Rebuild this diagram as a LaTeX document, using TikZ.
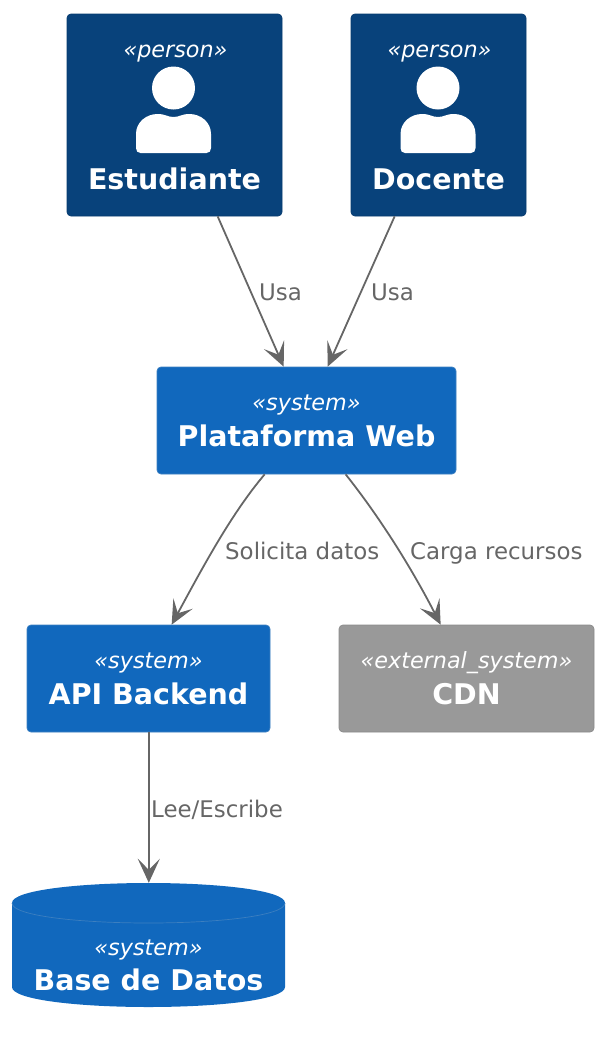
\documentclass[tikz,border=0pt]{standalone}
\usepackage{fontspec}
\setmainfont{DejaVu Sans}
\usepackage{tikz}
\usetikzlibrary{calc,arrows.meta}
\definecolor{personblue}{HTML}{08427B}
\definecolor{personedge}{HTML}{073B6F}
\definecolor{systemblue}{HTML}{1168BD}
\definecolor{systemedge}{HTML}{3C7FC0}
\definecolor{extgray}{HTML}{999999}
\definecolor{extedge}{HTML}{8A8A8A}
\definecolor{linkgray}{HTML}{666666}
\newcommand{\stereo}[1]{{\fontsize{22.3}{36}\selectfont\itshape «#1»}}
\newcommand{\boxname}[1]{{\fontsize{28.5}{36}\selectfont\bfseries #1}}
\tikzset{
  box/.style={draw,rounded corners=4pt,line width=0.7pt,text=white,align=center,minimum width=#1,font=\fontsize{28.5}{36}\selectfont},
  person/.style={box=#1,draw=personedge,fill=personblue,minimum height=202pt},
  system/.style={box=#1,draw=systemedge,fill=systemblue,minimum height=107pt},
  external/.style={box=#1,draw=extedge,fill=extgray,minimum height=107pt},
  boxtext/.style={text=white,inner sep=0pt,anchor=base},
  link/.style={linkgray,line width=1.8pt,-{Stealth[length=24pt,width=22pt,inset=11pt]}},
  linktext/.style={text=linkgray,anchor=base west,inner sep=0pt,font=\fontsize{22.9}{26}\selectfont},
}
\newcommand{\usericon}[1]{%
  \fill[white] (#1,88) circle (21.5);
  \fill[white] (#1-33,153) .. controls (#1-36,153) and (#1-37.5,151) .. (#1-37.5,148) -- (#1-37.5,134)
    .. controls (#1-37.5,122) and (#1-27,114) .. (#1-16,114)
    .. controls (#1-8,114) and (#1-6,117) .. (#1,117)
    .. controls (#1+6,117) and (#1+8,114) .. (#1+16,114)
    .. controls (#1+27,114) and (#1+37.5,122) .. (#1+37.5,134) -- (#1+37.5,148)
    .. controls (#1+37.5,151) and (#1+36,153) .. (#1+33,153) -- cycle;
}
\begin{document}
\begin{tikzpicture}[x=1pt,y=-1pt]
  \useasboundingbox (0,0) rectangle (603,1039);
  % people
  \node[person=215pt] (est) at (174.5,115) {};
  \node[person=175pt] (doc) at (438.5,115) {};
  \node[boxtext] (eststereo) at (175.5,57) {\stereo{person}};
  \node[boxtext] (docstereo) at (439.5,57) {\stereo{person}};
  \usericon{173.5}
  \usericon{438}
  \node[boxtext] (estname) at (174.5,189) {\boxname{Estudiante}};
  \node[boxtext] (docname) at (438.5,189) {\boxname{Docente}};
  % systems
  \node[system=299pt] (web) at (306.5,420.5) {\stereo{system}\\\boxname{Plataforma Web}};
  \node[system=243pt] (api) at (148.5,678.5) {\stereo{system}\\\boxname{API Backend}};
  \node[external=255pt] (cdn) at (466.5,678.5) {\stereo{external\_system}\\\boxname{CDN}};
  % database drum
  \fill[systemblue] (12,903) .. controls (12,890) and (80,883) .. (148.5,883)
    .. controls (217,883) and (285,890) .. (285,903) -- (285,987)
    .. controls (285,1000) and (217,1007) .. (148.5,1007)
    .. controls (80,1007) and (12,1000) .. (12,987) -- cycle;
  \draw[systemedge,line width=0.7pt] (12,903) .. controls (12,916) and (80,923) .. (148.5,923)
    .. controls (217,923) and (285,916) .. (285,903);
  \node[inner sep=0pt,minimum width=273pt,minimum height=124pt] (db) at (148.5,945) {};
  \node[boxtext] (dbstereo) at (148.5,955) {\stereo{system}};
  \node[boxtext] (dbname) at (148.5,990) {\boxname{Base de Datos}};
  % links
  \draw[link] ($(est.south west)+(151,0)$) -- ($(web.north west)+(127,0)$);
  \draw[link] ($(doc.south west)+(44,0)$) -- ($(web.north west)+(171,0)$);
  \draw[link] ($(web.south west)+(108,0)$) .. controls (232,513) and (205,563) .. ($(api.north west)+(145,0)$);
  \draw[link] ($(web.south west)+(189,0)$) .. controls (378,515) and (410,565) .. ($(cdn.north west)+(102,0)$);
  \draw[link] ($(api.south)+(0.3,0)$) -- ($(db.north)+(0.3,0)$);
  \node[linktext] (usa1) at (259,300) {Usa};
  \node[linktext] (usa2) at (371,300) {Usa};
  \node[linktext] (solicita) at (225,559) {Solicita datos};
  \node[linktext] (carga) at (410,559) {Carga recursos};
  \node[linktext] (lee) at (151,817) {Lee/Escribe};
\end{tikzpicture}
\end{document}
